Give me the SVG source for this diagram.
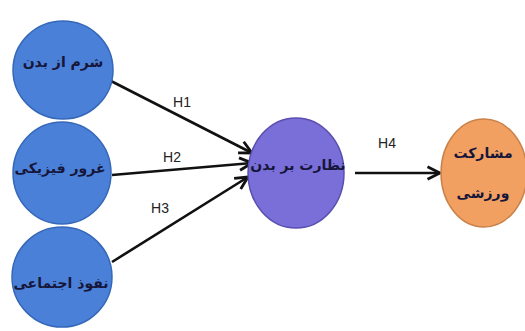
<svg xmlns="http://www.w3.org/2000/svg" width="525" height="331" viewBox="0 0 525 331">
<style>
.blue{fill:#4a80d8;stroke:#3568b8;stroke-width:1.5}
.purple{fill:#7a6ed8;stroke:#5a4fb0;stroke-width:1.5}
.orange{fill:#f2a062;stroke:#c9824a;stroke-width:1.5}
.fa{font-family:"DejaVu Sans",sans-serif;font-weight:bold;font-size:14px;fill:#16163a;text-anchor:middle;dominant-baseline:central}
.lbl{font-family:"Liberation Sans",Arial,sans-serif;font-size:14px;fill:#222;text-anchor:middle;dominant-baseline:central}
.edge{stroke:#111;stroke-width:2.6;fill:none;marker-end:url(#arr)}
</style>
<defs>
<marker id="arr" viewBox="0 0 10 10" refX="9" refY="5" markerWidth="6" markerHeight="6" orient="auto" markerUnits="strokeWidth">
<path d="M1,1 L9,5 L1,9" fill="none" stroke="#111" stroke-width="1.8"/>
</marker>
</defs>
<rect width="525" height="331" fill="#fff"/>
<g id="connectors">
<line class="edge" x1="109" y1="80" x2="252" y2="153"/>
<line class="edge" x1="112" y1="175" x2="252" y2="163"/>
<line class="edge" x1="112" y1="262" x2="248" y2="177"/>
<line class="edge" x1="355" y1="173" x2="440" y2="173"/>
<text class="lbl" x="182" y="102">H1</text>
<text class="lbl" x="172" y="157">H2</text>
<text class="lbl" x="160" y="208">H3</text>
<text class="lbl" x="387" y="143">H4</text>
</g>
<g id="n1">
<ellipse class="blue" cx="63" cy="70" rx="50" ry="49"/>
<text class="fa" x="63" y="62" direction="rtl">شرم از بدن</text>
</g>
<g id="n2">
<ellipse class="blue" cx="62" cy="173" rx="49" ry="51"/>
<text class="fa" x="60" y="168" direction="rtl">غرور فیزیکی</text>
</g>
<g id="n3">
<ellipse class="blue" cx="62" cy="277" rx="50" ry="50"/>
<text class="fa" x="61" y="283" direction="rtl">نفوذ اجتماعی</text>
</g>
<g id="n4">
<ellipse class="purple" cx="296" cy="173" rx="48" ry="55"/>
<text class="fa" x="298" y="165" direction="rtl">نظارت بر بدن</text>
</g>
<g id="n5">
<ellipse class="orange" cx="484" cy="173" rx="43" ry="54"/>
<text class="fa" x="483" y="153" direction="rtl">مشارکت</text>
<text class="fa" x="483" y="193" direction="rtl">ورزشی</text>
</g>
</svg>
